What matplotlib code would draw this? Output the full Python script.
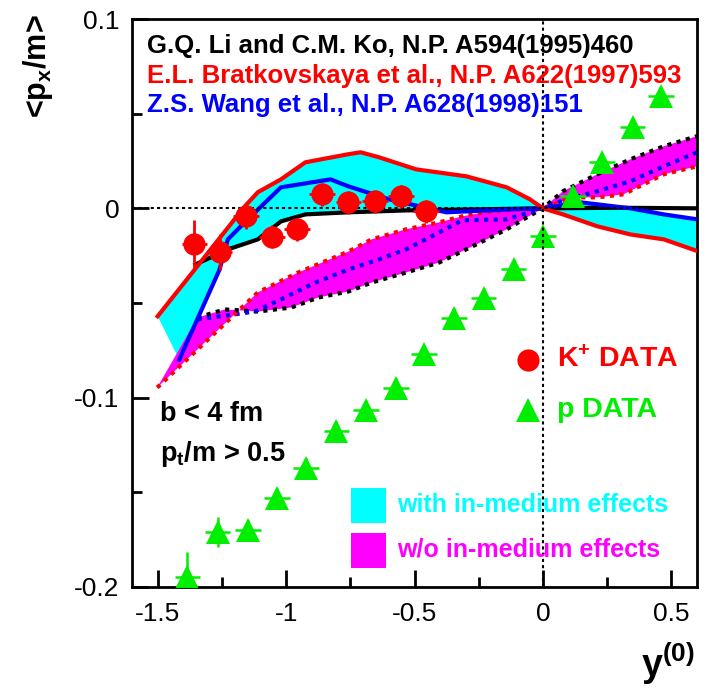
import matplotlib
matplotlib.use('Agg')
import matplotlib.pyplot as plt
import numpy as np
from matplotlib.patches import Rectangle
from matplotlib.ticker import MultipleLocator

plt.rcParams['font.family'] = ['Liberation Sans', 'DejaVu Sans']
plt.rcParams['mathtext.fontset'] = 'custom'
plt.rcParams['mathtext.rm'] = 'Liberation Sans'
plt.rcParams['mathtext.bf'] = 'Liberation Sans:bold'
plt.rcParams['mathtext.it'] = 'Liberation Sans:italic'

# K+ data
kp_x = [-1.357, -1.259, -1.157, -1.055, -0.957, -0.859, -0.757, -0.655, -0.553, -0.455]
kp_y = [-0.019, -0.023, -0.004, -0.015, -0.011, 0.0074, 0.0032, 0.0037, 0.0063, -0.0016]
kp_ey = [0.013, 0.0095, 0.007, 0.006, 0.006, 0.006, 0.006, 0.006, 0.006, 0.006]

# proton data
p_x = [-1.384, -1.267, -1.149, -1.035, -0.922, -0.804, -0.690, -0.573, -0.463,
       -0.345, -0.231, -0.114, 0.0, 0.118, 0.231, 0.349, 0.459]
p_y = [-0.1947, -0.1709, -0.1698, -0.1529, -0.1370, -0.1175, -0.1063, -0.0947, -0.0772,
       -0.0577, -0.0476, -0.0323, -0.0148, 0.0063, 0.0243, 0.0429, 0.0593]
p_ey = [0.013, 0.008, 0.005, 0.005, 0.005, 0.005, 0.005, 0.005, 0.005,
        0.005, 0.005, 0.005, 0.005, 0.005, 0.005, 0.005, 0.005]

# with in-medium effects (solid)
brat_x = [-1.5, -1.161, -1.110, -1.020, -0.925, -0.757, -0.710, -0.639, -0.494, -0.298,
          -0.141, -0.051, 0.0, 0.078, 0.212, 0.341, 0.471, 0.6]
brat_y = [-0.057, 0.001, 0.0085, 0.0153, 0.0243, 0.0286, 0.0296, 0.027, 0.0206, 0.0169,
          0.0111, 0.0048, 0.0, -0.0032, -0.0095, -0.0138, -0.0164, -0.0225]
wang_x = [-1.416, -1.259, -1.227, -1.149, -1.020, -0.827, -0.757, -0.600, -0.482, -0.376,
          -0.118, 0.0, 0.145, 0.341, 0.471, 0.6]
wang_y = [-0.0799, -0.0323, -0.0164, -0.0058, 0.0111, 0.0153, 0.0116, 0.0048, 0.0011, -0.0021,
          -0.0005, 0.0, 0.0032, 0.0, -0.0032, -0.0058]
li_x = [-1.353, -1.294, -1.227, -1.110, -1.020, -0.925, -0.757, -0.533, 0.0, 0.3, 0.6]
li_y = [-0.0296, -0.026, -0.0217, -0.0164, -0.0069, -0.0032, -0.0021, -0.0011, 0.0, 0.0003, 0.0]

# w/o in-medium effects (dotted)
brat0_x = [-1.502, -1.110, -0.953, -0.757, -0.667, -0.533, -0.404, -0.314, -0.208, -0.090,
           0.0, 0.118, 0.212, 0.314, 0.408, 0.471, 0.6]
brat0_y = [-0.0947, -0.0444, -0.0339, -0.0228, -0.0164, -0.0111, -0.0074, -0.0042, -0.0016, -0.0005,
           0.0, 0.0058, 0.0058, 0.0074, 0.0138, 0.018, 0.0222]
wang0_x = [-1.345, -1.122, -1.020, -0.886, -0.757, -0.639, -0.533, -0.404, -0.314, -0.141,
           -0.078, 0.0, 0.078, 0.212, 0.341, 0.471, 0.6]
wang0_y = [-0.0587, -0.0545, -0.0481, -0.0392, -0.0323, -0.027, -0.0217, -0.0127, -0.0063, -0.0058,
           -0.0032, 0.0, 0.0042, 0.009, 0.0143, 0.0222, 0.0296]
li0_x = [-1.345, -1.239, -1.110, -0.980, -0.875, -0.757, -0.667, -0.533, -0.404, -0.275,
         -0.141, -0.063, 0.0, 0.078, 0.212, 0.341, 0.471, 0.6]
li0_y = [-0.0577, -0.0534, -0.0545, -0.0524, -0.0471, -0.0439, -0.0392, -0.0339, -0.0286, -0.0201,
         -0.0111, -0.0048, 0.0, 0.009, 0.018, 0.0259, 0.0328, 0.0381]

refs = ['G.Q. Li and C.M. Ko, N.P. A594(1995)460',
        'E.L. Bratkovskaya et al., N.P. A622(1997)593',
        'Z.S. Wang et al., N.P. A628(1998)151']

RED = '#ff0000'
BLUE = '#0000ff'
CYAN = '#00ffff'
MAGENTA = '#ff00ff'
GREEN = '#00ee00'

fig = plt.figure(figsize=(7.11, 6.90), dpi=100)
ax = fig.add_axes([132 / 711, 1 - 587 / 690, 565 / 711, 568 / 690])

# bands
ax.fill(np.concatenate([brat_x, wang_x[::-1]]), np.concatenate([brat_y, wang_y[::-1]]),
        color=CYAN, lw=0, zorder=1)
li_neg = [i for i, v in enumerate(li_x) if v <= 0]
wang_neg = [i for i, v in enumerate(wang_x) if v <= 0]
ax.fill(np.concatenate([np.array(li_x)[li_neg], np.array(wang_x)[wang_neg][::-1]]),
        np.concatenate([np.array(li_y)[li_neg], np.array(wang_y)[wang_neg][::-1]]),
        color=CYAN, lw=0, zorder=1)
ax.fill(np.concatenate([brat0_x, li0_x[::-1]]), np.concatenate([brat0_y, li0_y[::-1]]),
        color=MAGENTA, lw=0, zorder=1)

# curves
dot = dict(lw=3, ls=(0, (1, 1.3)), dash_capstyle='butt', zorder=3)
ax.plot(li0_x, li0_y, color='black', **dot)
ax.plot(wang0_x, wang0_y, color=BLUE, **dot)
ax.plot(brat0_x, brat0_y, color=RED, **dot)
ax.plot(li_x, li_y, color='black', lw=3, zorder=3)
ax.plot(wang_x, wang_y, color=BLUE, lw=3, zorder=3)
ax.plot(brat_x, brat_y, color=RED, lw=3, zorder=3)

# zero lines
ax.axhline(0, color='black', lw=1.5, ls=(0, (1.5, 1.5)), zorder=4)
ax.axvline(0, color='black', lw=1.5, ls=(0, (1.5, 1.5)), zorder=6)

# data points
ax.errorbar(p_x, p_y, yerr=p_ey, xerr=0.05, fmt='^', color=GREEN, ms=17, mew=0,
            elinewidth=1.8, capsize=0, zorder=5)
ax.errorbar(kp_x, kp_y, yerr=kp_ey, xerr=0.05, fmt='o', color=RED, ms=16, mew=0,
            elinewidth=2, capsize=0, zorder=5)

# text
ref_cols = ['black', RED, BLUE]
ref_y = [0.0857, 0.0698, 0.0545]
for t, c, yy in zip(refs, ref_cols, ref_y):
    ax.text(-1.541, yy, t, color=c, fontsize=18.5, fontweight='bold', va='center', ha='left', zorder=7)

ax.text(-1.49, -0.1085, 'b < 4 fm', fontsize=19.5, fontweight='bold', va='center', zorder=7)
ax.text(-1.49, -0.1300, r'p$_\mathbf{t}$/m > 0.5', fontsize=19.5, fontweight='bold', va='center', zorder=7)

ax.plot([-0.059], [-0.080], 'o', color=RED, ms=16, mew=0, zorder=7)
ax.text(0.055, -0.080, r'K$^\mathbf{+}$ DATA', color=RED, fontsize=20.5, fontweight='bold', va='center', zorder=7)
ax.plot([-0.059], [-0.1063], '^', color=GREEN, ms=17, mew=0, zorder=7)
ax.text(0.055, -0.1063, 'p DATA', color=GREEN, fontsize=20.5, fontweight='bold', va='center', zorder=7)

ax.add_patch(Rectangle((-0.749, -0.1661), 0.137, 0.0185, color=CYAN, lw=0, zorder=7))
ax.add_patch(Rectangle((-0.749, -0.1900), 0.137, 0.0185, color=MAGENTA, lw=0, zorder=7))
ax.text(-0.569, -0.1566, 'with in-medium effects', color=CYAN, fontsize=18, fontweight='bold', va='center', zorder=7)
ax.text(-0.569, -0.1804, 'w/o in-medium effects', color=MAGENTA, fontsize=18, fontweight='bold', va='center', zorder=7)

ax.set_xlim(-1.6, 0.6)
ax.set_ylim(-0.2, 0.1)
ax.xaxis.set_minor_locator(MultipleLocator(0.25))
ax.yaxis.set_minor_locator(MultipleLocator(0.05))
ax.set_xticks([-1.5, -1, -0.5, 0, 0.5], ['-1.5', '-1', '-0.5', '0', '0.5'])
ax.set_yticks([-0.2, -0.1, 0, 0.1], ['-0.2', '-0.1', '0', '0.1'])
ax.tick_params(which='both', direction='in', top=False, right=False, labelsize=19, width=2)
ax.tick_params(which='major', length=12)
ax.tick_params(which='minor', length=7)
ax.tick_params(axis='x', which='major', pad=11)
ax.tick_params(axis='y', which='major', pad=9)
for s in ax.spines.values():
    s.set_linewidth(2)

fig.text(38 / 711, 1 - 66 / 690, r'<p$_\mathbf{x}$/m>', rotation=90, fontsize=22,
         fontweight='bold', ha='center', va='center')
fig.text(668 / 711, 1 - 664 / 690, r'y$^\mathbf{(0)}$', fontsize=27, fontweight='bold',
         ha='center', va='center')

fig.savefig('out.png', dpi=100)
